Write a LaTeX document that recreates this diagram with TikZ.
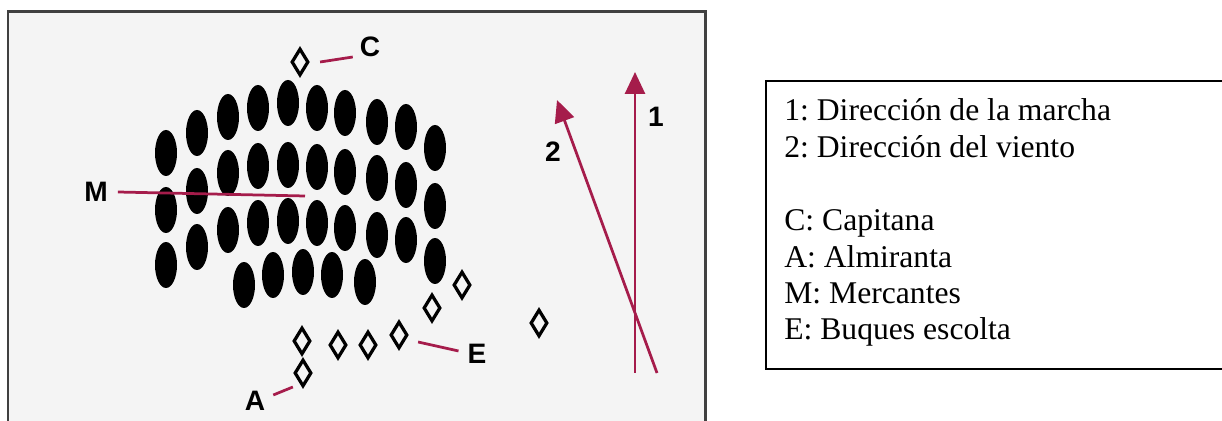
\documentclass[tikz,border=0pt]{standalone}
\usepackage{fontspec}
\setmainfont{Liberation Serif}
\setsansfont{Liberation Sans}
\usetikzlibrary{shapes.geometric,arrows.meta}
\definecolor{rumbo}{RGB}{165,28,75}
\definecolor{fondo}{RGB}{244,244,244}
\frenchspacing
\begin{document}
\begin{tikzpicture}[x=0.02cm, y=-0.02cm,
    escolta/.style={draw=black, shape=diamond, line width=0.065cm, inner sep=0pt, minimum width=0.34cm, minimum height=0.54cm},
    letra/.style={font=\sffamily\bfseries\fontsize{16}{16}\selectfont, inner sep=1pt},
    leyenda/.style={font=\fontsize{18}{21}\selectfont, inner sep=0pt, anchor=base west},
    marca/.style={draw=rumbo, line width=0.055cm},
    flecha/.style={draw=rumbo, line width=0.055cm, -{Triangle[width=0.4cm, length=0.44cm]}}]
    \useasboundingbox (0,0) rectangle (1222,421);

    % convoy frame
    \fill[fondo] (8,12) rectangle (705,421);
    \draw[line width=0.06cm, black!75] (8,421) -- (8,12) -- (705,12) -- (705,421);

    % mercantes
    \foreach \x/\y in {166/153, 166/210, 166/265, 197/133, 197/191, 197/247,
                       228/117, 228/173, 228/230, 258/108, 258/166, 258/223,
                       288/103, 288/165, 288/221, 317/108, 317/167, 317/223,
                       345/113, 345/172, 345/228, 377/122, 377/178, 377/235,
                       406/127, 406/185, 406/240, 435/148, 435/206, 435/261,
                       244/285, 273/275, 303/272, 332/275, 365/282}
        \fill[black] (\x,\y) ellipse [x radius=0.22cm, y radius=0.46cm];

    % escoltas
    \node[escolta] (cap) at (300,62) {};
    \node[escolta] (alm) at (303,373) {};
    \node[escolta] (e1) at (302,341) {};
    \node[escolta] (e2) at (338,345) {};
    \node[escolta] (e3) at (368,345) {};
    \node[escolta] (e4) at (399,335) {};
    \node[escolta] (e5) at (432,308) {};
    \node[escolta] (e6) at (462,285) {};
    \node[escolta] (e7) at (539,323) {};

    % letras
    \node[letra] (lblC) at (370,47) {C};
    \node[letra] (lblM) at (96,192) {M};
    \node[letra] (lblA) at (255,401) {A};
    \node[letra] (lblE) at (477,354) {E};
    \node[letra] (lbl1) at (656,117) {1};
    \node[letra] (lbl2) at (553,152) {2};

    \coordinate (mfin) at (305,196);
    \draw[marca] ([xshift=0.2cm]cap.east) -- ([shift={(-0.1cm,-0.2cm)}]lblC.west);
    \draw[marca] ([xshift=0.16cm]lblM.east) -- (mfin);
    \draw[marca] ([shift={(0.12cm,0.12cm)}]lblA.east) -- ([shift={(0cm,-0.28cm)}]alm.west);
    \draw[marca] ([shift={(0.18cm,-0.14cm)}]e4.east) -- ([shift={(-0.14cm,0.06cm)}]lblE.west);

    % rumbo y viento
    \coordinate (r1a) at (635,373);
    \coordinate (r1b) at (635,72);
    \coordinate (r2a) at (657,373);
    \coordinate (r2b) at (557,100);
    \draw[flecha] (r1a) -- (r1b);
    \draw[flecha] (r2a) -- (r2b);

    % leyenda
    \draw[line width=0.03cm] (1240,81) -- (766,81) -- (766,369) -- (1240,369);
    \node[leyenda] (ley1) at (784,121) {1: Dirección de la marcha};
    \node[leyenda] (ley2) at (784,158) {2: Dirección del viento};
    \node[leyenda] (leyC) at (784,231) {C: Capitana};
    \node[leyenda] (leyA) at (784,268) {A: Almiranta};
    \node[leyenda] (leyM) at (784,304) {M: Mercantes};
    \node[leyenda] (leyE) at (784,340) {E: Buques escolta};

\end{tikzpicture}
\end{document}
